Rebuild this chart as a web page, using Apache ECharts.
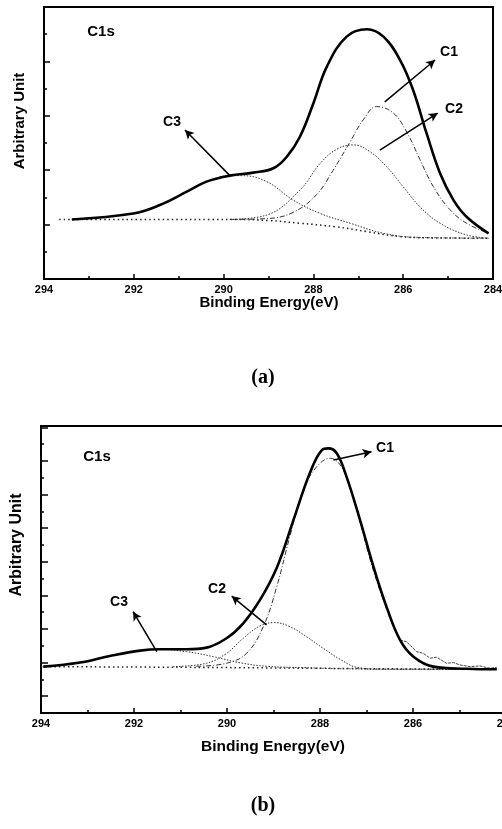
<!DOCTYPE html>
<html>
<head>
<meta charset="utf-8">
<script src="https://cdn.jsdelivr.net/npm/echarts@6/dist/echarts.min.js"></script>
<style>
  html, body { margin: 0; padding: 0; background: #fff; }
  #chart { width: 502px; height: 829px; }
</style>
</head>
<body>
<div id="chart"></div>
<script>
  // x tick labels (binding energy, eV)
  const energyTicks = [294, 292, 290, 288, 286, 284];

  // (a) C1s fit, [eV, intensity]
  const envelopeA = [[293.38, 2.19], [292.01, 2.41], [291.42, 2.72], [290.82, 3.21], [290.38, 3.58], [289.86, 3.80], [289.34, 3.91], [288.89, 4.07], [288.59, 4.50], [288.30, 5.23], [288.00, 6.46], [287.70, 7.81], [287.26, 8.91], [286.81, 9.18], [286.44, 8.91], [286.07, 8.05], [285.78, 6.95], [285.48, 5.36], [285.18, 3.89], [284.88, 2.90], [284.59, 2.29], [284.10, 1.68]];
  const c1A = [[289.86, 2.19], [289.04, 2.22], [288.45, 2.45], [287.93, 3.10], [287.56, 4.00], [287.18, 5.05], [286.89, 5.85], [286.59, 6.34], [286.22, 6.10], [285.92, 5.40], [285.63, 4.40], [285.33, 3.40], [284.96, 2.55], [284.59, 2.05], [284.10, 1.68]];
  const c2A = [[289.86, 2.19], [289.04, 2.35], [288.30, 3.27], [287.85, 4.25], [287.48, 4.77], [287.11, 4.93], [286.74, 4.68], [286.37, 4.13], [286.00, 3.39], [285.63, 2.66], [285.18, 2.05], [284.59, 1.62], [284.10, 1.50]];
  const c3A = [[293.38, 2.19], [292.01, 2.41], [291.42, 2.72], [290.82, 3.21], [290.38, 3.58], [289.86, 3.80], [289.60, 3.80], [289.04, 3.58], [288.45, 2.90], [287.85, 2.41], [287.18, 2.05], [286.44, 1.68], [285.70, 1.53], [284.10, 1.50]];
  const backgroundA = [[293.66, 2.19], [289.80, 2.19], [289.00, 2.15], [288.30, 2.05], [287.50, 1.92], [286.80, 1.74], [286.07, 1.56], [285.30, 1.51], [284.10, 1.50]];

  // (b) C1s fit, [eV, intensity]
  const envelopeB = [[293.95, 1.76], [293.16, 2.00], [292.52, 2.39], [291.87, 2.71], [291.44, 2.79], [290.87, 2.79], [290.44, 2.89], [290.01, 3.45], [289.65, 4.34], [289.29, 5.73], [288.92, 7.71], [288.57, 10.49], [288.22, 13.27], [287.96, 14.65], [287.82, 14.75], [287.64, 14.46], [287.43, 13.07], [287.14, 10.49], [286.85, 7.71], [286.57, 5.33], [286.28, 3.35], [285.99, 2.35], [285.56, 1.76], [284.85, 1.63], [284.20, 1.60]];
  const rawTailB = [[286.28, 3.35], [286.14, 3.24], [285.92, 2.65], [285.78, 2.55], [285.63, 2.26], [285.49, 2.32], [285.28, 1.96], [285.13, 2.00], [284.99, 1.86], [284.77, 1.76], [284.56, 1.80], [284.34, 1.66], [284.20, 1.72]];
  const c1B = [[290.66, 1.78], [290.01, 1.96], [289.58, 2.55], [289.22, 4.14], [288.93, 6.52], [288.65, 9.49], [288.36, 12.27], [288.07, 13.66], [287.78, 14.16], [287.50, 13.46], [287.21, 11.08], [286.92, 8.11], [286.64, 5.73], [286.35, 3.74], [286.06, 2.55], [285.71, 1.86], [285.20, 1.64], [284.20, 1.60]];
  const c2B = [[291.16, 1.76], [290.44, 1.96], [290.01, 2.55], [289.65, 3.45], [289.29, 4.18], [288.98, 4.38], [288.65, 4.14], [288.29, 3.54], [287.93, 2.85], [287.57, 2.20], [287.21, 1.72], [286.64, 1.60], [284.20, 1.60]];
  const c3B = [[293.95, 1.76], [293.16, 2.00], [292.52, 2.39], [291.87, 2.71], [291.51, 2.79], [290.87, 2.65], [290.29, 2.35], [289.72, 1.99], [289.15, 1.78], [288.36, 1.70], [287.36, 1.63], [284.20, 1.60]];
  const backgroundB = [[294.00, 1.76], [291.00, 1.72], [288.00, 1.66], [286.00, 1.62], [284.20, 1.60]];

  // annotation arrows [from, to] in data units
  const arrowsA = [[[289.86, 3.80], [290.86, 5.48]], [[286.41, 6.51], [285.29, 8.05]], [[286.52, 4.74], [285.23, 6.10]]];
  const arrowsB = [[[287.71, 14.06], [286.89, 14.55]], [[289.15, 4.24], [289.90, 5.96]], [[291.51, 2.65], [292.02, 5.03]]];

  const chart = echarts.init(document.getElementById('chart'));

  const sans = '"Liberation Sans", Arial, sans-serif';
  const serif = '"Liberation Serif", "Times New Roman", serif';

  const xAxisBase = (gridIndex) => ({
    type: 'value',
    gridIndex,
    min: 284,
    max: 294,
    interval: 2,
    inverse: true,
    axisLine: { onZero: false, lineStyle: { color: '#000', width: 2 } },
    axisTick: { inside: true, length: 5, lineStyle: { color: '#000', width: 1.5 } },
    minorTick: { show: true, splitNumber: 2, length: 3, lineStyle: { color: '#000', width: 1.5 } },
    splitLine: { show: false },
    axisLabel: {
      color: '#000',
      fontFamily: sans,
      fontWeight: 'bold',
      fontSize: 11,
      margin: 5,
      showMinLabel: true,
      showMaxLabel: true,
      formatter: (v) => (energyTicks.includes(v) ? String(v) : ''),
    },
  });

  const curve = (name, data, xi, yi, style, extra) => Object.assign({
    name,
    type: 'line',
    xAxisIndex: xi,
    yAxisIndex: yi,
    data,
    smooth: 0.4,
    symbol: 'none',
    silent: true,
    lineStyle: style,
    z: 3,
  }, extra || {});

  const arrowMark = (list) => ({
    silent: true,
    symbol: ['none', 'arrow'],
    symbolSize: [7, 9],
    label: { show: false },
    lineStyle: { color: '#000', width: 1.5, type: 'solid' },
    data: list.map((a) => [{ coord: a[0] }, { coord: a[1] }]),
  });

  const compStyle1 = { color: '#333', width: 1, type: [5, 2, 1, 2] };
  const compStyle2 = { color: '#333', width: 1, type: [1.5, 1.5] };
  const bgStyle = { color: '#222', width: 1.5, type: [1.5, 3] };
  const envStyle = { color: '#000', width: 2.6 };

  const labelText = (text, x, y, size, family) => ({
    type: 'text',
    x,
    y,
    style: {
      text,
      fill: '#000',
      font: 'bold ' + size + 'px ' + (family || sans),
      textAlign: 'center',
      textVerticalAlign: 'middle',
    },
  });

  const option = {
    animation: false,
    backgroundColor: '#fff',
    grid: [
      { left: 44, top: 7, width: 449, height: 272, show: true, borderColor: '#000', borderWidth: 2, containLabel: false, outerBoundsMode: 'none' },
      { left: 41, top: 426, width: 465, height: 287, show: true, borderColor: '#000', borderWidth: 2, containLabel: false, outerBoundsMode: 'none' },
    ],
    xAxis: [xAxisBase(0), xAxisBase(1)],
    yAxis: [
      {
        type: 'value',
        gridIndex: 0,
        min: 0,
        max: 10,
        interval: 2,
        axisLine: { onZero: false, lineStyle: { color: '#000', width: 2 } },
        axisTick: { inside: true, length: 6, lineStyle: { color: '#000', width: 1.5 } },
        minorTick: { show: true, splitNumber: 2, length: 3, lineStyle: { color: '#000', width: 1.5 } },
        splitLine: { show: false },
        axisLabel: { show: false },
      },
      {
        type: 'value',
        gridIndex: 1,
        position: 'left',
        min: -1,
        max: 16.08,
        interval: 1,
        axisLine: { onZero: false, lineStyle: { color: '#000', width: 2 } },
        axisTick: { inside: true, length: 3, lineStyle: { color: '#000', width: 1.5 } },
        splitLine: { show: false },
        axisLabel: { show: false },
      },
      {
        type: 'value',
        gridIndex: 1,
        position: 'left',
        offset: 0,
        min: -1,
        max: 16.08,
        splitNumber: 8,
        axisLine: { show: false, onZero: false },
        axisTick: { inside: true, length: 7, lineStyle: { color: '#000', width: 1.5 } },
        splitLine: { show: false },
        axisLabel: { show: false },
      },
    ],
    series: [
      curve('background a', backgroundA, 0, 0, bgStyle),
      curve('C3 a', c3A, 0, 0, compStyle2),
      curve('C2 a', c2A, 0, 0, compStyle2),
      curve('C1 a', c1A, 0, 0, compStyle1),
      curve('envelope a', envelopeA, 0, 0, envStyle, { z: 4, markLine: arrowMark(arrowsA) }),
      curve('background b', backgroundB, 1, 1, bgStyle),
      curve('C3 b', c3B, 1, 1, compStyle2),
      curve('C2 b', c2B, 1, 1, compStyle2),
      curve('C1 b', c1B, 1, 1, compStyle1),
      curve('raw b', rawTailB, 1, 1, { color: '#444', width: 1, type: [3, 1] }, { smooth: false }),
      curve('envelope b', envelopeB, 1, 1, envStyle, { z: 4, markLine: arrowMark(arrowsB) }),
    ],
    graphic: [
      labelText('C1s', 101, 32, 15),
      labelText('C3', 172, 122, 14),
      labelText('C1', 449, 52, 14),
      labelText('C2', 454, 109, 14),
      labelText('Binding Energy(eV)', 269, 303, 15),
      labelText('(a)', 263, 378, 20, serif),
      Object.assign(labelText('Arbitrary Unit', 20, 121, 15), { rotation: Math.PI / 2 }),
      labelText('C1s', 97, 457, 15),
      labelText('C1', 385, 448, 14),
      labelText('C2', 217, 589, 14),
      labelText('C3', 119, 602, 14),
      labelText('Binding Energy(eV)', 273, 747, 15.5),
      labelText('(b)', 263, 806, 20, serif),
      Object.assign(labelText('Arbitrary Unit', 17, 545, 16), { rotation: Math.PI / 2 }),
    ],
  };

  chart.setOption(option);
</script>
</body>
</html>
